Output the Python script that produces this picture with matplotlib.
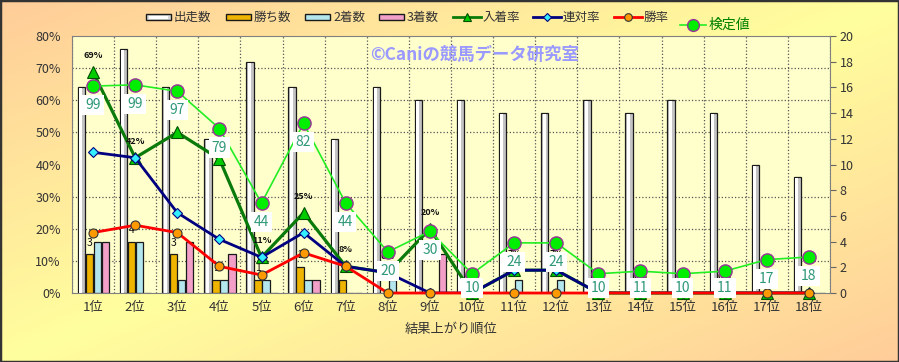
import numpy as np
import matplotlib.pyplot as plt
from matplotlib.patches import Rectangle

plt.rcParams['font.family'] = ['Noto Sans CJK JP', 'DejaVu Sans']

# 結果上がり順位ごとの成績
positions = ['1位', '2位', '3位', '4位', '5位', '6位', '7位', '8位', '9位',
             '10位', '11位', '12位', '13位', '14位', '15位', '16位', '17位', '18位']
runs = [16, 19, 16, 12, 18, 16, 12, 16, 15, 15, 14, 14, 15, 14, 15, 14, 10, 9]
wins = [3, 4, 3, 1, 1, 2, 1, 0, 0, 0, 0, 0, 0, 0, 0, 0, 0, 0]
seconds = [4, 4, 1, 1, 1, 1, 0, 1, 0, 0, 1, 1, 0, 0, 0, 0, 0, 0]
thirds = [4, 0, 4, 3, 0, 1, 0, 0, 3, 0, 0, 0, 0, 0, 0, 0, 0, 0]

# 率 (%)
place_rate = [68.8, 42.1, 50.0, 41.7, 11.1, 25.0, 8.3, 6.3, 20.0, 0, 7.1, 7.1, 0, 0, 0, 0, 0, 0]
top2_rate = [43.8, 42.1, 25.0, 16.7, 11.1, 18.8, 8.3, 6.3, 0, 0, 7.1, 7.1, 0, 0, 0, 0, 0, 0]
win_rate = [18.8, 21.1, 18.8, 8.3, 5.6, 12.5, 8.3, 0, 0, 0, 0, 0, 0, 0, 0, 0, 0, 0]

# 検定値 (ラベル値と右軸上の位置)
kentei = [99, 99, 97, 79, 44, 82, 44, 20, 30, 10, 24, 24, 10, 11, 10, 11, 17, 18]
kentei_pos = [16.1, 16.2, 15.7, 12.8, 7.0, 13.2, 7.0, 3.2, 4.8, 1.5, 3.9, 3.9,
              1.5, 1.7, 1.5, 1.7, 2.6, 2.8]

W, H = 899, 362
fig = plt.figure(figsize=(W / 100, H / 100), dpi=100)

# 背景グラデーション
bg = fig.add_axes([0, 0, 1, 1], zorder=-5)
yy, xx = np.mgrid[0:H, 0:W]
t = (xx / W + yy / H) / 2
w = 1 - np.abs(2 * t - 1)
peach = np.array([1.0, 0.80, 0.60])
yellow = np.array([1.0, 1.0, 0.62])
img = peach + (yellow - peach) * w[..., None]
bg.imshow(img, aspect='auto', extent=[0, 1, 0, 1])
bg.axis('off')

x = np.arange(len(positions))
ax = fig.add_axes([72 / W, 1 - 293 / H, 758 / W, 257 / H])
ax.set_facecolor('#FFFFCC')
ax.set_xlim(-0.5, len(positions) - 0.5)
ax.set_ylim(0, 20)

# 棒グラフ
bw = 0.175
ax.bar(x - 0.273, runs, bw, color='#C4C4C4', edgecolor='#1a1a1a', lw=0.9, zorder=2)
ax.bar(x - 0.29, np.array(runs) - 0.08, 0.07, color='white', lw=0, zorder=2.1)
ax.bar(x - 0.083, wins, bw, color='#EEB400', edgecolor='#1a1a1a', lw=0.9, zorder=2)
ax.bar(x + 0.107, seconds, bw, color='#B4E6EE', edgecolor='#1a1a1a', lw=0.9, zorder=2)
ax.bar(x + 0.297, thirds, bw, color='#F2A0C8', edgecolor='#1a1a1a', lw=0.9, zorder=2)

for xi, v in zip(x, wins):
    if v > 0:
        ax.annotate(str(v), (xi - 0.083, v), xytext=(0, 8.5), textcoords='offset points',
                    ha='center', va='center', fontsize=7.5, color='#111', zorder=3)

ax.set_xticks(x)
ax.set_xticklabels(positions, fontsize=9.5, color='#333')
ax.set_xticks(np.arange(-0.5, len(positions), 1), minor=True)
ax.set_yticks(np.arange(0, 20.1, 2))
ax.set_yticks(np.arange(0, 20.1, 2.5), minor=True)
ax.grid(which='minor', ls=':', color='#555555', lw=0.9, zorder=0)
ax.set_axisbelow(True)
ax.tick_params(axis='x', which='both', length=0, pad=6)
ax.set_xlabel('結果上がり順位', fontsize=9.5, color='#333', labelpad=6)
for s in ax.spines.values():
    s.set_color('#808080')

# 率の折れ線 (左軸)
ax2 = ax.twinx()
ax2.set_ylim(0, 80)
for s in ax2.spines.values():
    s.set_visible(False)

ax2.plot(x, place_rate, color='#0A7A0A', lw=2.3, marker='^', ms=8,
         mfc='#00CC00', mec='#005000', mew=0.8, zorder=3, clip_on=False)
ax2.plot(x, top2_rate, color='#000080', lw=2.0, marker='D', ms=5,
         mfc='#33EEFF', mec='#000080', mew=0.8, zorder=3)
ax2.plot(x, win_rate, color='#FF0000', lw=2.0, marker='o', ms=6.5,
         mfc='#FF9900', mec='#333', mew=0.8, zorder=3, clip_on=False)
for xi, v in zip(x, place_rate):
    ax2.annotate(f'{v:.0f}%', (xi, v), xytext=(0, 12), textcoords='offset points',
                 ha='center', va='center', fontsize=6.5, fontweight='bold', color='#111')

# 検定値 (右軸)
ax3 = ax.twinx()
ax3.set_ylim(0, 20)
ax3.axis('off')
ax3.plot(x, kentei_pos, color='#22EE22', lw=1.2, marker='o', ms=9.5,
         mfc='#00EE00', mec='#993399', mew=1.0, zorder=4, clip_on=False)
for xi, v, p in zip(x, kentei, kentei_pos):
    ly = max(p - 1.48, 0.39)
    ax3.text(xi, ly, str(v), ha='center', va='center', fontsize=10, color='#2E9878',
             bbox=dict(boxstyle='square,pad=0.22', fc='white', ec='none'),
             zorder=6, clip_on=False)

# 軸目盛 (twinx の後で設定)
ax.yaxis.tick_right()
ax.tick_params(axis='y', which='major', length=4, direction='out', color='#666',
               labelsize=9, labelcolor='#333', pad=3)
ax.tick_params(axis='y', which='minor', length=0)
ax2.yaxis.tick_left()
ax2.set_yticks(np.arange(0, 81, 10))
ax2.set_yticklabels([f'{v}%' for v in range(0, 81, 10)])
ax2.tick_params(axis='y', length=0, labelsize=9, labelcolor='#333', pad=8)

fig.text(370 / W, 1 - 55 / H, '©Caniの競馬データ研究室', ha='left', va='center',
         fontsize=12.5, fontweight='bold', color='#9999FF')

# 凡例
lg = fig.add_axes([0, 0, 1, 1], zorder=10)
lg.set_xlim(0, W)
lg.set_ylim(H, 0)
lg.axis('off')
bar_items = [('出走数', 146, '#D8D8D8'), ('勝ち数', 226, '#EEB400'),
             ('2着数', 305, '#B4E6EE'), ('3着数', 379, '#F2A0C8')]
for name, x0, c in bar_items:
    lg.add_patch(Rectangle((x0, 14), 25, 6, fc=c, ec='#1a1a1a', lw=1.0))
    if name == '出走数':
        lg.add_patch(Rectangle((x0 + 3, 15.5), 19, 3, fc='white', ec='none'))
    lg.text(x0 + 28, 17, name, ha='left', va='center', fontsize=9, color='#333')

line_items = [('入着率', 453, '#0A7A0A', '^', '#00CC00', '#005000', 6),
              ('連対率', 533, '#000080', 'D', '#33EEFF', '#000080', 4),
              ('勝率', 614, '#FF0000', 'o', '#FF9900', '#333', 5.5)]
for name, x0, c, m, mf, me, ms in line_items:
    lg.plot([x0, x0 + 28], [17, 17], color=c, lw=2)
    lg.plot([x0 + 14], [17], marker=m, ms=ms, mfc=mf, mec=me, mew=0.8)
    lg.text(x0 + 30, 17, name, ha='left', va='center', fontsize=9, color='#333')
lg.plot([680, 706], [25, 25], color='#22EE22', lw=1.2)
lg.plot([693], [25], marker='o', ms=8.5, mfc='#00EE00', mec='#993399', mew=1.0)
lg.text(709, 25, '検定値', ha='left', va='center', fontsize=10, color='#008000')

fig.add_artist(Rectangle((0, 0), 1, 1, transform=fig.transFigure, fill=False,
                         ec='#333333', lw=2.5))

fig.savefig('out.png', dpi=100)
